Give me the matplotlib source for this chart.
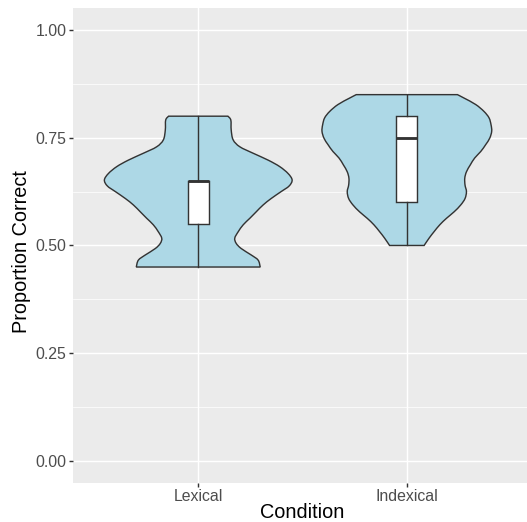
import numpy as np
import matplotlib
matplotlib.use("Agg")
import matplotlib.pyplot as plt
from matplotlib.path import Path
from matplotlib.patches import PathPatch

# ---------------- data ----------------
categories = ["Lexical", "Indexical"]
positions = [1, 2]

# violin outlines: proportion-correct levels (bottom to top) and relative density
lexical_y = [0.450, 0.466, 0.478, 0.493, 0.505, 0.517, 0.532, 0.548, 0.563, 0.578,
             0.594, 0.609, 0.625, 0.638, 0.652, 0.667, 0.683, 0.698, 0.714, 0.729,
             0.745, 0.768, 0.791, 0.800]
lexical_density = [0.660, 0.638, 0.564, 0.457, 0.404, 0.389, 0.426, 0.479, 0.549, 0.617,
                   0.691, 0.777, 0.883, 0.968, 1.000, 0.957, 0.868, 0.745, 0.585, 0.443,
                   0.372, 0.351, 0.347, 0.316]

indexical_y = [0.500, 0.517, 0.532, 0.548, 0.563, 0.578, 0.594, 0.609, 0.625, 0.640,
               0.656, 0.671, 0.687, 0.703, 0.718, 0.734, 0.749, 0.765, 0.780, 0.796,
               0.811, 0.827, 0.842, 0.850]
indexical_density = [0.184, 0.237, 0.290, 0.351, 0.422, 0.503, 0.574, 0.620, 0.635, 0.620,
                     0.617, 0.635, 0.676, 0.723, 0.787, 0.840, 0.883, 0.904, 0.897, 0.876,
                     0.822, 0.734, 0.610, 0.539]

# box plot statistics
box_q1 = [0.55, 0.60]
box_median = [0.65, 0.75]
box_q3 = [0.65, 0.80]
whisker_low = [0.45, 0.50]
whisker_high = [0.80, 0.85]

y_ticks = [0.00, 0.25, 0.50, 0.75, 1.00]
y_tick_labels = ["0.00", "0.25", "0.50", "0.75", "1.00"]
y_minor = [0.125, 0.375, 0.625, 0.875]

# ---------------- styling ----------------
W, H, DPI = 527, 522, 100
PX = 72.0 / DPI  # points per pixel
plt.rcParams['font.family'] = ['Liberation Sans', 'DejaVu Sans']

fig = plt.figure(figsize=(W / DPI, H / DPI), dpi=DPI)
fig.patch.set_facecolor('white')

left_px, right_px, top_px, bottom_px = 73.1, 532.0, 8.45, 482.5
ax = fig.add_axes([left_px / W, (H - bottom_px) / H,
                   (right_px - left_px) / W, (bottom_px - top_px) / H])
ax.set_facecolor('#EBEBEB')
for s in ax.spines.values():
    s.set_visible(False)

ax.set_xlim(0.4, 2.6)
ax.set_ylim(-0.05, 1.05)

# grid
for y in y_minor:
    ax.axhline(y, color='white', lw=0.71 * PX, zorder=0.5)
for y in y_ticks:
    ax.axhline(y, color='white', lw=1.42 * PX, zorder=0.6)
for x in positions:
    ax.axvline(x, color='white', lw=1.42 * PX, zorder=0.6)


def smooth_side(pts):
    """Catmull-Rom -> cubic Bezier vertices for a polyline (excluding first point)."""
    verts = []
    n = len(pts)
    for i in range(n - 1):
        p0 = pts[i - 1] if i > 0 else pts[i]
        p1 = pts[i]
        p2 = pts[i + 1]
        p3 = pts[i + 2] if i + 2 < n else pts[i + 1]
        verts += [p1 + (p2 - p0) / 6.0, p2 - (p3 - p1) / 6.0, p2]
    return verts


half_width = 0.45
violins = [(lexical_y, lexical_density), (indexical_y, indexical_density)]
for pos, (yy, dd) in zip(positions, violins):
    yy = np.asarray(yy, float)
    dd = np.asarray(dd, float) * half_width
    left = np.column_stack([pos - dd, yy])            # bottom -> top
    right = np.column_stack([pos + dd, yy])[::-1]     # top -> bottom
    verts = [left[0]]
    codes = [Path.MOVETO]
    lv = smooth_side(left)
    verts += lv
    codes += [Path.CURVE4] * len(lv)
    verts.append(right[0])
    codes.append(Path.LINETO)
    rv = smooth_side(right)
    verts += rv
    codes += [Path.CURVE4] * len(rv)
    verts.append(left[0])
    codes.append(Path.CLOSEPOLY)
    patch = PathPatch(Path(np.array(verts), codes), facecolor='#ADD8E6',
                      edgecolor='#333333', lw=1.42 * PX, zorder=2)
    ax.add_patch(patch)

stats = []
for i, c in enumerate(categories):
    stats.append(dict(label=c, med=box_median[i], q1=box_q1[i], q3=box_q3[i],
                      whislo=whisker_low[i], whishi=whisker_high[i], fliers=[]))
bp = ax.bxp(stats, positions=positions, widths=0.1, patch_artist=True,
            showfliers=False, showcaps=False, manage_ticks=False,
            boxprops=dict(facecolor='white', edgecolor='#333333', lw=1.42 * PX),
            medianprops=dict(color='#333333', lw=2.84 * PX, solid_capstyle='butt'),
            whiskerprops=dict(color='#333333', lw=1.42 * PX))
for k in ('boxes', 'medians', 'whiskers'):
    for art in bp[k]:
        art.set_zorder(3 if k != 'medians' else 4)

ax.set_xticks(positions)
ax.set_xticklabels(categories)
ax.set_yticks(y_ticks)
ax.set_yticklabels(y_tick_labels)
ax.tick_params(axis='both', length=3.67 * PX, width=1.42 * PX, color='#333333',
               labelcolor='#4D4D4D', labelsize=11.4, pad=2.93 * PX)

ax.set_xlabel('Condition', fontsize=14.3, color='black', va='center')
ax.xaxis.set_label_coords((302 - left_px) / (right_px - left_px),
                          (bottom_px - 513) / (bottom_px - top_px))
ax.set_ylabel('Proportion Correct', fontsize=14.3, color='black', va='center')
ax.yaxis.set_label_coords((22 - left_px) / (right_px - left_px),
                          (bottom_px - 252) / (bottom_px - top_px))

fig.savefig('out.png', dpi=DPI, facecolor='white')
